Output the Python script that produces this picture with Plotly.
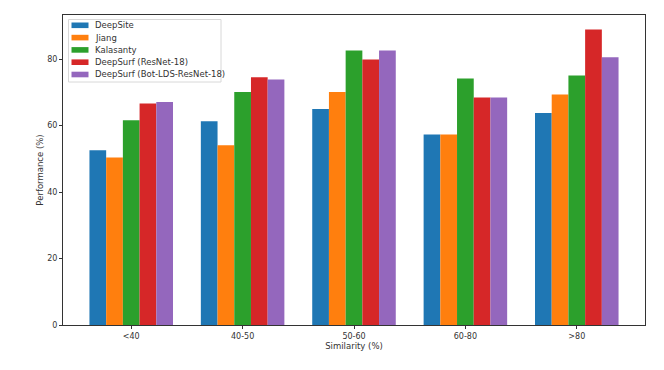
import plotly.graph_objects as go

# similarity bins
categories = ["<40", "40-50", "50-60", "60-80", ">80"]

# performance (%) per method
deepsite = [52.6, 61.3, 65.0, 57.3, 63.8]
jiang = [50.4, 54.1, 70.1, 57.3, 69.4]
kalasanty = [61.6, 70.1, 82.6, 74.2, 75.1]
deepsurf_resnet = [66.7, 74.6, 79.9, 68.5, 88.9]
deepsurf_bot = [67.1, 73.9, 82.6, 68.5, 80.6]

names = ["DeepSite", "Jiang", "Kalasanty", "DeepSurf (ResNet-18)",
         "DeepSurf (Bot-LDS-ResNet-18)"]
colors = ["#1f77b4", "#ff7f0e", "#2ca02c", "#d62728", "#9467bd"]
values = [deepsite, jiang, kalasanty, deepsurf_resnet, deepsurf_bot]

# plot area in page pixels (page body has an 8px margin)
X0, X1, Y0, Y1 = 63, 645, 15, 325


def px_x(p):
    return (p - X0) / (X1 - X0)


def px_y(p):
    return (Y1 - p) / (Y1 - Y0)


fig = go.Figure()
for name, vals, col in zip(names, values, colors):
    fig.add_trace(go.Bar(x=categories, y=vals, name=name,
                         marker_color=col, marker_line_width=0))

# matplotlib-like legend drawn by hand (plotly's rows are too tall)
shapes = [dict(type="rect", xref="paper", yref="paper",
               x0=px_x(68.5), x1=px_x(221), y0=px_y(19.5), y1=px_y(82),
               line=dict(color="#d8d8d8", width=1), fillcolor="rgba(255,255,255,0.85)")]
annotations = []
for i, (name, col) in enumerate(zip(names, colors)):
    cy = 25.3 + i * 12.3
    shapes.append(dict(type="rect", xref="paper", yref="paper",
                       x0=px_x(71.5), x1=px_x(88.5), y0=px_y(cy - 2.8), y1=px_y(cy + 2.8),
                       line=dict(width=0), fillcolor=col))
    annotations.append(dict(text=name, xref="paper", yref="paper",
                            x=px_x(93), y=px_y(cy), xanchor="left", yanchor="middle",
                            showarrow=False, font=dict(size=8.5, color="#333")))

fig.update_layout(
    width=664, height=370,
    margin=dict(l=55, r=27, t=7, b=53),
    plot_bgcolor="white", paper_bgcolor="white",
    barmode="group", bargap=0.25, bargroupgap=0,
    font=dict(family="DejaVu Sans", size=8, color="#333"),
    showlegend=False, shapes=shapes, annotations=annotations,
)
fig.update_xaxes(
    range=[-0.6125, 4.6125], showline=True, mirror=True, linecolor="#333", linewidth=1,
    ticks="outside", ticklen=3, tickcolor="#333", showgrid=False,
    title=dict(text="Similarity (%)", standoff=2, font=dict(size=8.5)),
)
fig.update_yaxes(
    range=[0, 93.3], tickvals=[0, 20, 40, 60, 80], showline=True, mirror=True,
    linecolor="#333", linewidth=1, ticks="outside", ticklen=3, tickcolor="#333",
    showgrid=False, zeroline=False,
    title=dict(text="Performance (%)", standoff=2, font=dict(size=8.5)),
)

fig.write_html("out.html")
